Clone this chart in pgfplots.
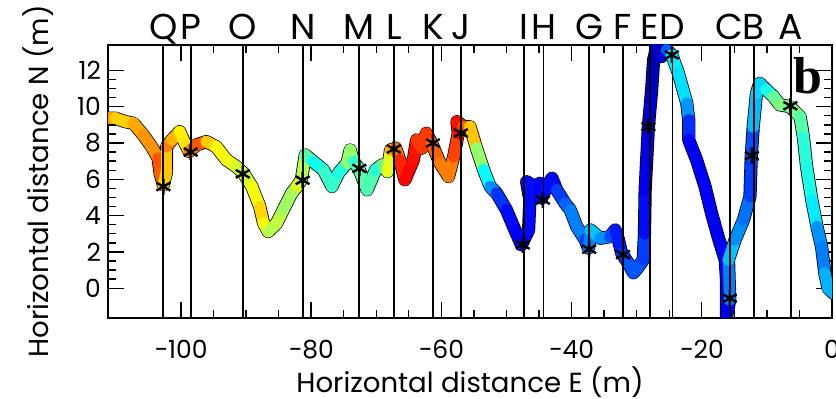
\documentclass[border=0pt]{standalone}
\usepackage{fontspec}
\setmainfont{Poppins}
\newfontfamily\serifb{Liberation Serif}
\usepackage{pgfplots}
\usepackage{pgfplotstable}
\pgfplotsset{compat=1.18}
\pgfplotstableread{
x y c
-111.2 9.37 0.78
-110.1 9.37 0.68
-108.6 9.18 0.66
-107.3 9.09 0.68
-105.8 8.45 0.74
-104.5 7.80 0.72
-103.5 7.16 0.74
-103.2 6.34 0.85
-102.7 5.69 0.72
-102.2 6.42 0.62
-102.2 7.80 0.74
-101.4 8.17 0.76
-100.2 8.63 0.64
-99.4 7.99 0.64
-98.7 7.53 0.66
-97.6 7.90 0.86
-96.1 8.08 0.72
-94.6 7.80 0.63
-93.0 7.07 0.62
-91.5 6.70 0.60
-90.4 6.34 0.56
-89.1 5.60 0.60
-87.9 4.50 0.63
-87.3 3.58 0.70
-86.6 3.12 0.55
-85.3 3.58 0.55
-84.3 4.31 0.58
-83.0 5.23 0.48
-82.2 5.60 0.60
-81.5 5.97 0.58
-80.9 7.34 0.52
-79.7 6.98 0.39
-78.1 6.52 0.39
-76.8 5.60 0.46
-75.8 6.34 0.39
-74.5 6.89 0.42
-74.0 7.62 0.62
-73.5 6.98 0.42
-72.7 6.61 0.42
-71.4 5.42 0.50
-70.1 6.52 0.40
-69.1 6.79 0.42
-68.3 6.42 0.52
-67.8 7.62 0.68
-67.0 7.71 0.72
-66.4 7.07 0.80
-65.6 5.97 0.88
-64.3 7.07 0.86
-63.8 8.17 0.86
-63.0 7.71 0.78
-62.3 8.54 0.86
-61.5 7.99 0.78
-60.2 6.89 0.78
-58.9 6.15 0.72
-58.1 7.25 0.78
-57.4 8.54 0.84
-57.6 9.18 0.90
-56.6 8.90 0.82
-55.6 8.90 0.74
-54.6 7.71 0.62
-53.5 6.52 0.42
-52.5 5.60 0.33
-51.5 5.23 0.20
-50.0 4.31 0.15
-48.7 3.21 0.12
-47.7 2.39 0.12
-46.6 3.21 0.12
-46.4 4.86 0.15
-46.9 5.87 0.12
-45.6 5.60 0.15
-44.9 5.78 0.12
-44.6 4.96 0.12
-43.8 5.60 0.15
-43.0 6.06 0.12
-42.3 5.42 0.15
-41.0 4.68 0.22
-40.2 4.31 0.22
-39.2 3.39 0.28
-37.9 2.66 0.22
-37.4 2.20 0.15
-37.1 3.21 0.35
-35.6 2.75 0.28
-34.1 2.84 0.25
-33.3 3.21 0.15
-32.8 2.66 0.15
-32.3 1.93 0.15
-31.3 1.38 0.20
-30.5 0.85 0.22
-29.7 1.19 0.20
-29.0 1.56 0.22
-28.8 3.00 0.15
-28.7 5.42 0.12
-28.2 8.90 0.10
-27.7 10.93 0.08
-27.4 12.58 0.05
-26.9 13.31 0.05
-26.2 12.76 0.08
-25.4 13.13 0.08
-24.6 12.85 0.35
-23.6 11.85 0.37
-22.3 10.19 0.32
-22.0 9.27 0.22
-22.0 8.17 0.12
-20.8 7.07 0.12
-19.5 5.60 0.12
-18.5 4.13 0.12
-17.5 2.84 0.12
-16.4 1.56 0.12
-16.2 0.46 0.12
-16.2 -1.56 0.10
-15.7 -0.64 0.15
-15.9 1.56 0.35
-14.9 2.66 0.28
-13.6 3.76 0.25
-12.6 5.05 0.22
-12.4 7.25 0.15
-12.1 8.90 0.25
-11.6 10.74 0.37
-11.1 11.29 0.30
-10.1 10.93 0.37
-9.0 10.56 0.43
-8.0 10.10 0.52
-6.5 10.01 0.48
-4.9 9.45 0.52
-4.4 8.35 0.40
-3.9 6.70 0.43
-3.1 4.86 0.37
-2.3 3.39 0.34
-1.6 2.29 0.20
-1.1 0.83 0.30
-0.6 0.00 0.30
0.2 -0.28 0.30
}\pathdata
\pgfplotstableread{
x y
-102.7 5.60
-98.5 7.50
-90.5 6.30
-81.3 5.95
-72.6 6.60
-67.3 7.67
-61.3 8.00
-57.0 8.55
-47.5 2.39
-44.4 4.86
-37.3 2.15
-32.1 1.85
-28.2 8.90
-24.6 12.85
-15.7 -0.55
-12.3 7.30
-6.4 10.05
}\stardata
\begin{document}
\begin{tikzpicture}
\begin{axis}[
 scale only axis, width=362pt, height=136.5pt,
 xmin=-111.2, xmax=0, ymin=-1.64, ymax=13.4,
 xtick={-100,-80,-60,-40,-20,0},
 xticklabels={−100,−80,−60,−40,−20,0},
 ytick={0,2,...,12},
 minor tick num=3,
 tick align=inside, major tick length=8pt, minor tick length=4pt,
 xtick pos=both, ytick pos=both, xticklabel pos=lower, yticklabel pos=left,
 tick style={black, line width=0.7pt},
 axis line style={line width=1pt},
 /pgf/number format/assume math mode=true,
 ticklabel style={font=\fontsize{12.5}{14}\selectfont},
 xticklabel style={yshift=-7.5pt},
 label style={font=\fontsize{13.8}{16}\selectfont},
 xlabel={Horizontal distance E (m)}, ylabel={Horizontal distance N (m)},
 xlabel style={at={(axis description cs:0.5,0)}, anchor=center, yshift=-31.85pt},
 ylabel style={at={([xshift=-35pt]axis description cs:0,0.5)}, anchor=center},
 colormap/jet, point meta min=0, point meta max=1,
 clip mode=individual,
]
\addplot[black, line width=6.6pt, line join=round, line cap=round, forget plot] table[x=x,y=y] \pathdata;
\addplot[mesh, point meta=explicit, line width=5.8pt, line cap=round, line join=round] table[x=x,y=y,meta=c] \pathdata;
\pgfplotsinvokeforeach{-102.7,-98.5,-90.5,-81.3,-72.6,-67.3,-61.3,-57.0,-47.3,-44.3,-37.3,-32.1,-28.0,-24.5,-15.7,-12.0,-6.3}{
 \addplot[black, line width=0.9pt, forget plot] coordinates {(#1,-5) (#1,20)};
}
\addplot[only marks, mark=asterisk, mark size=4pt, mark options={line width=1.2pt, black}] table[x=x,y=y] \stardata;
\foreach \xx/\ll in {-102.7/Q,-98.5/P,-90.5/O,-81.3/N,-72.6/M,-67.3/L,-61.3/K,-57.0/J,-47.3/I,-44.3/H,-37.3/G,-32.1/F,-28.0/E,-24.5/D,-15.7/C,-12.0/B,-6.3/A}{
 \edef\tmp{\noexpand\node[anchor=base, inner sep=0pt, font=\noexpand\fontsize{18}{20}\noexpand\selectfont] at (axis cs:\xx,13.4) [yshift=2.5pt] {\ll};}
 \tmp
}
\node[anchor=north east, inner sep=0pt, font=\serifb\bfseries\fontsize{26}{28}\selectfont] at ([xshift=-4.5pt,yshift=-6pt]rel axis cs:1,1) {b};
\end{axis}
\pgfresetboundingbox
\path ([xshift=-54pt,yshift=-40.5pt]current axis.south west) rectangle ([xshift=2pt,yshift=22.5pt]current axis.north east);
\end{tikzpicture}
\end{document}
